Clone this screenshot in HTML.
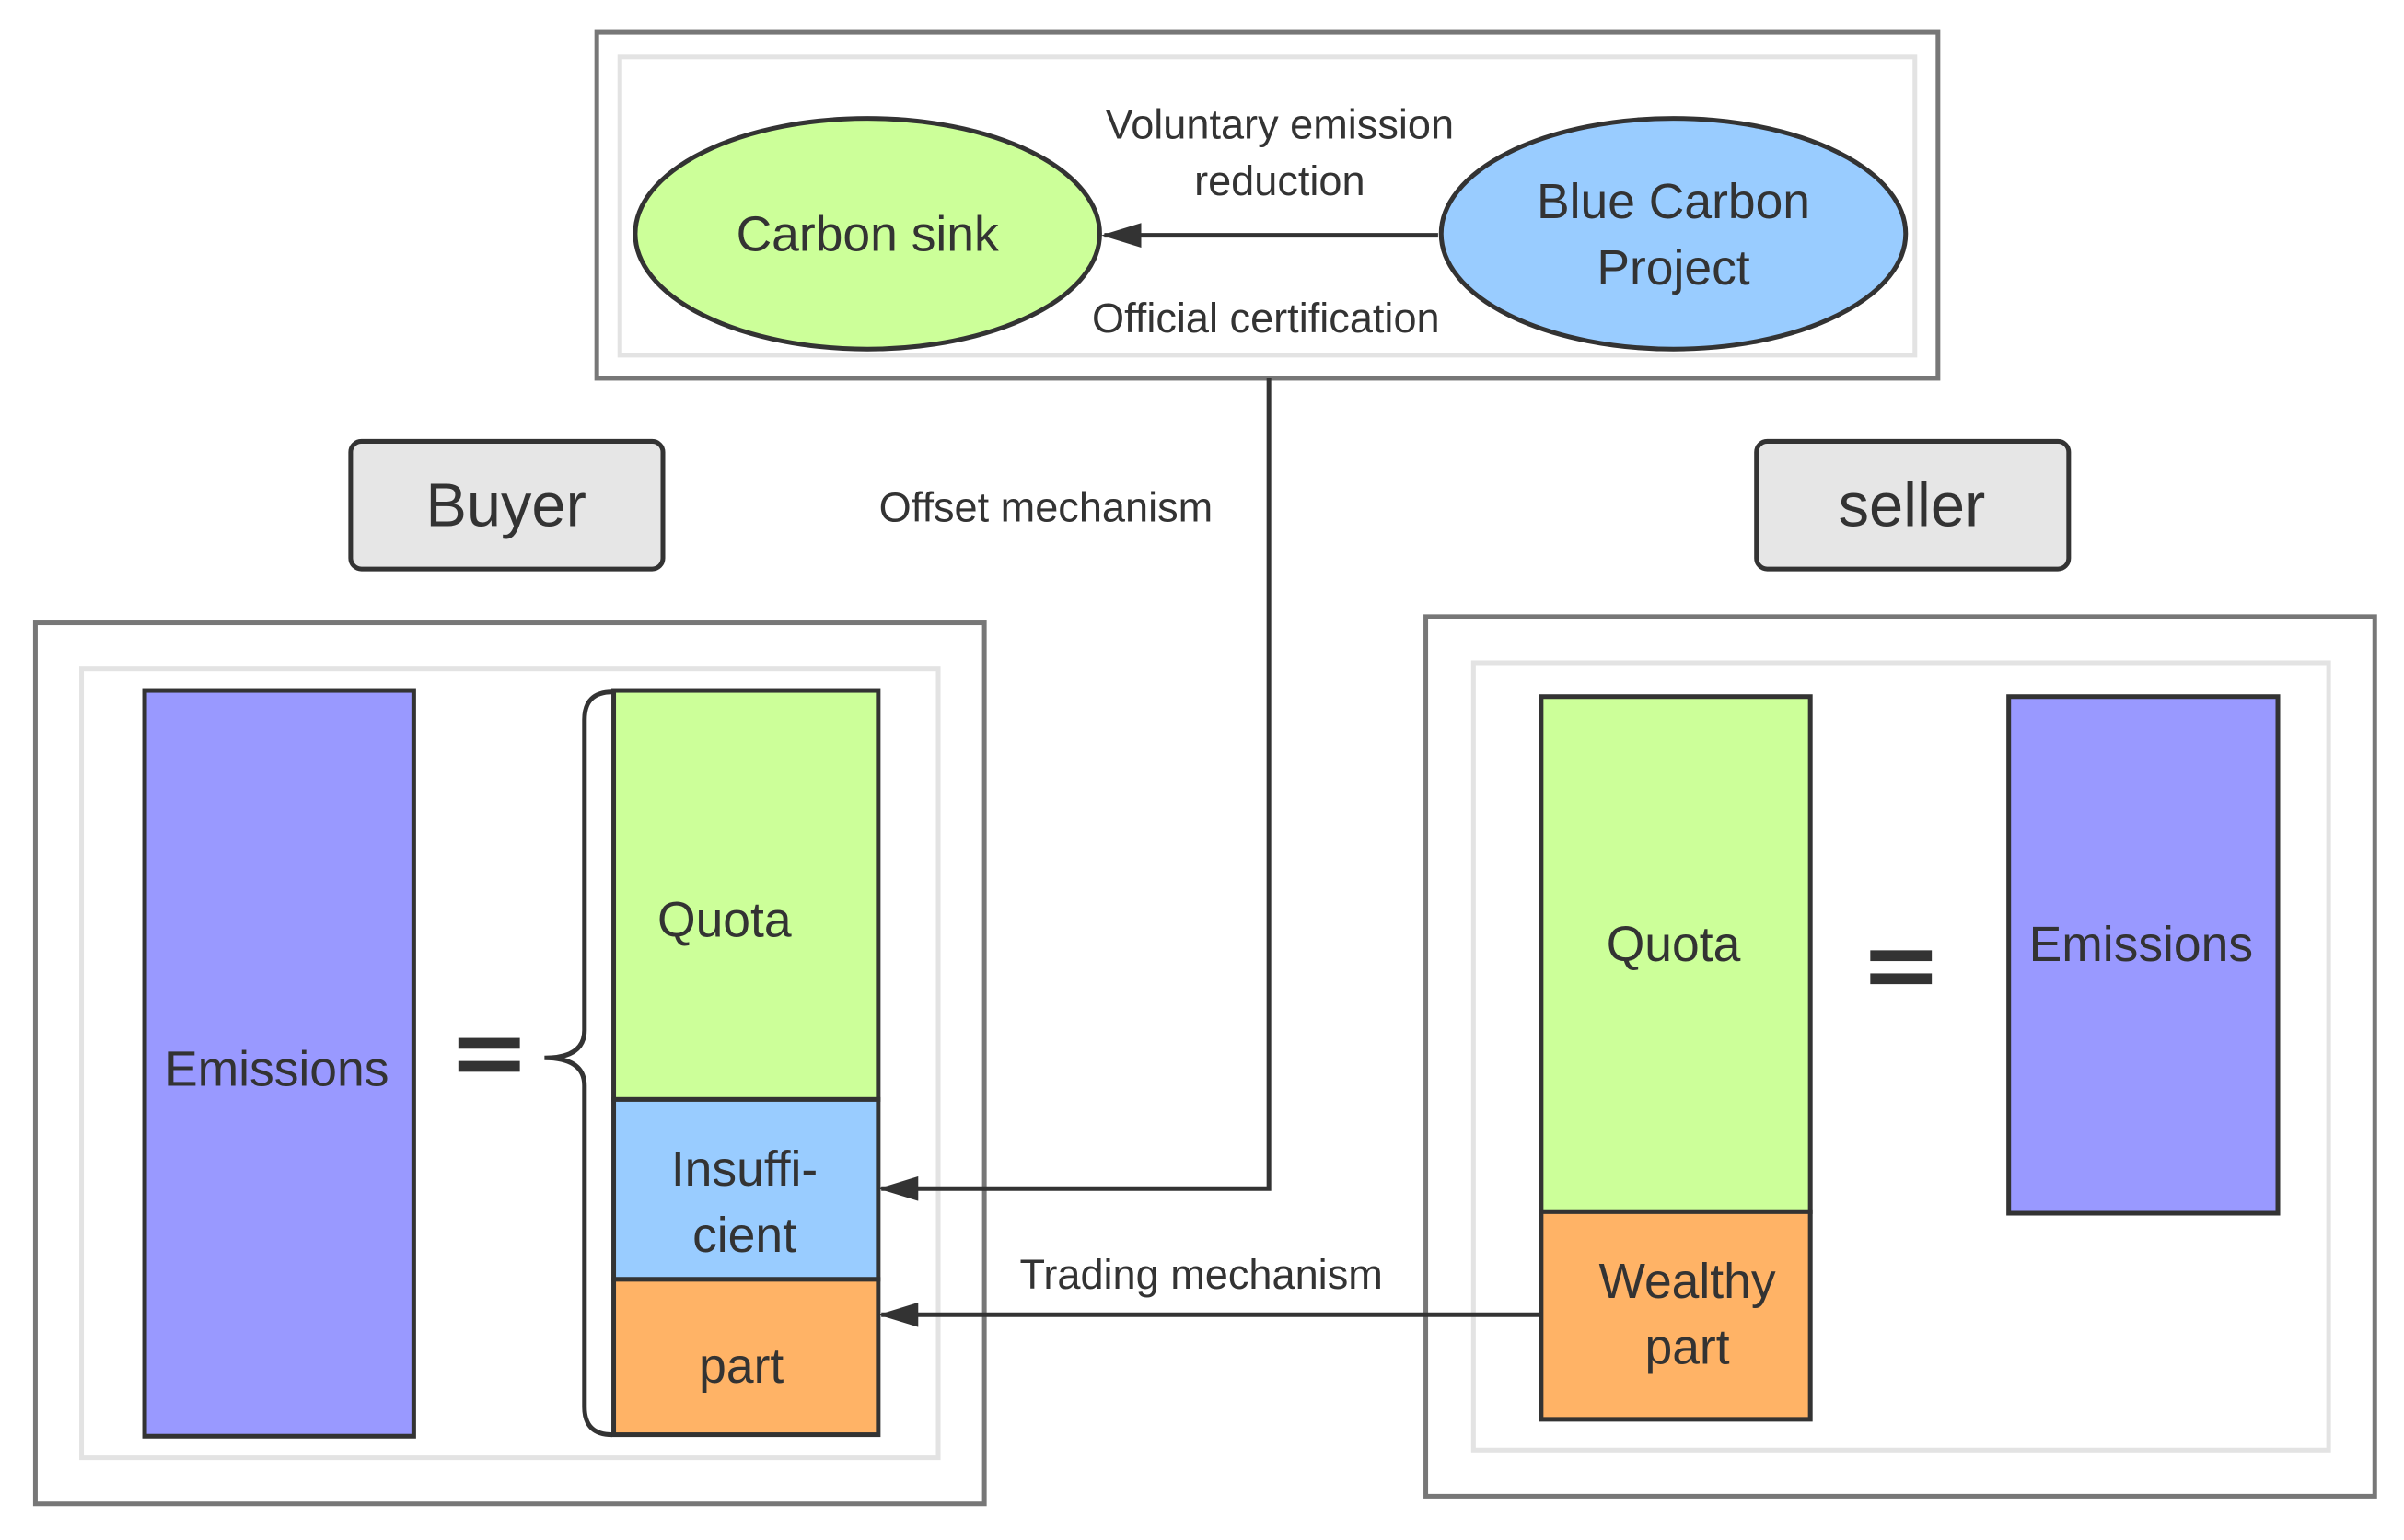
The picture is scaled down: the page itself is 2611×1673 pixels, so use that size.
<!DOCTYPE html>
<html><head><style>html,body{margin:0;padding:0;background:#fff}svg{display:block}</style></head>
<body>
<svg width="2611" height="1673" viewBox="0 0 1563 1001.5" xmlns="http://www.w3.org/2000/svg" font-family="Liberation Sans, sans-serif" fill="#333">
<defs><marker id="a" markerWidth="26" markerHeight="16" refX="24" refY="8" orient="auto" markerUnits="userSpaceOnUse"><path d="M0,0 L26,8 L0,16 z" fill="#333"/></marker></defs>
<rect x="388" y="21" width="872" height="225" fill="#fff" stroke="#777" stroke-width="3"/>
<rect x="403" y="37" width="842" height="194" fill="#fff" stroke="#e3e3e3" stroke-width="3"/>
<ellipse cx="564" cy="152" rx="151" ry="75" fill="#ccff99" stroke="#333" stroke-width="3"/>
<ellipse cx="1088" cy="152" rx="151" ry="75" fill="#99ccff" stroke="#333" stroke-width="3"/>
<line x1="935" y1="153" x2="718" y2="153" stroke="#333" stroke-width="3" marker-end="url(#a)"/>
<g font-size="32" text-anchor="middle"><text x="564" y="163">Carbon sink</text><text x="1088" y="142">Blue Carbon</text><text x="1088" y="185">Project</text></g>
<g font-size="27" text-anchor="middle"><text x="832" y="90">Voluntary emission</text><text x="832" y="127">reduction</text><text x="823" y="216">Official certification</text><text x="680" y="339">Offset mechanism</text><text x="781" y="838">Trading mechanism</text></g>
<rect x="228" y="287" width="203" height="83" rx="7" fill="#e6e6e6" stroke="#333" stroke-width="3"/>
<rect x="1142" y="287" width="203" height="83" rx="7" fill="#e6e6e6" stroke="#333" stroke-width="3"/>
<g font-size="40" text-anchor="middle"><text x="329" y="342">Buyer</text><text x="1243" y="342">seller</text></g>
<rect x="23" y="405" width="617" height="573" fill="none" stroke="#777" stroke-width="3"/>
<rect x="53" y="435" width="557" height="513" fill="none" stroke="#e3e3e3" stroke-width="3"/>
<rect x="927" y="401" width="617" height="572" fill="none" stroke="#777" stroke-width="3"/>
<rect x="958" y="431" width="556" height="512" fill="none" stroke="#e3e3e3" stroke-width="3"/>
<g stroke="#333" stroke-width="3">
<rect x="94" y="449" width="175" height="485" fill="#9999ff"/>
<rect x="399" y="449" width="172" height="266" fill="#ccff99"/>
<rect x="399" y="715" width="172" height="117" fill="#99ccff"/>
<rect x="399" y="832" width="172" height="101" fill="#ffb366"/>
<rect x="1002" y="453" width="175" height="335" fill="#ccff99"/>
<rect x="1002" y="788" width="175" height="135" fill="#ffb366"/>
<rect x="1306" y="453" width="175" height="336" fill="#9999ff"/>
<path d="M398,450 Q380,450 380,468 L380,670 Q380,688 354,688 Q380,688 380,706 L380,915 Q380,933 398,933" fill="none"/>
</g>
<polyline points="825,246 825,773 573,773" fill="none" stroke="#333" stroke-width="3" marker-end="url(#a)"/>
<line x1="1002" y1="855" x2="573" y2="855" stroke="#333" stroke-width="3" marker-end="url(#a)"/>
<rect x="298" y="675" width="40" height="7" fill="#333"/><rect x="298" y="690" width="40" height="7" fill="#333"/>
<rect x="1216" y="618" width="40" height="7" fill="#333"/><rect x="1216" y="633" width="40" height="7" fill="#333"/>
<g font-size="32" text-anchor="middle">
<text x="180" y="706">Emissions</text><text x="471" y="609">Quota</text><text x="484" y="771">Insuffi-</text><text x="484" y="814">cient</text><text x="482" y="899">part</text>
<text x="1088" y="625">Quota</text><text x="1097" y="844">Wealthy</text><text x="1097" y="887">part</text><text x="1392" y="625">Emissions</text>
</g>
</svg>
</body></html>
